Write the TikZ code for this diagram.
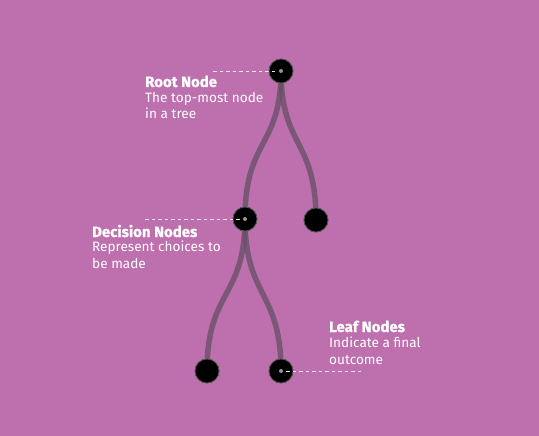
\documentclass[tikz,border=0pt]{standalone}
\usepackage{fontspec}
\setmainfont{Fira Sans}
\newfontfamily\headfont{Fira Sans}[BoldFeatures={FakeBold=0.8}]
\usetikzlibrary{calc}
\definecolor{bgpink}{RGB}{190,111,174}
\definecolor{branch}{RGB}{100,80,100}
\definecolor{dotgray}{RGB}{150,150,150}
\tikzset{
  treenode/.style={circle,fill=black,draw=black!65,line width=.7pt,
    minimum size=24pt,inner sep=0pt},
  branchline/.style={draw=branch,draw opacity=.75,line width=5.5pt},
  pointer/.style={draw=white!80!bgpink,line width=.8pt,
    dash pattern=on 3.5pt off 3pt},
  title/.style={anchor=base west,text=white,inner sep=0pt,
    font=\fontsize{15}{18}\selectfont\headfont\bfseries},
  caption/.style={anchor=base west,text=white,align=left,inner sep=0pt,
    font=\fontsize{13.6}{16.3}\selectfont}
}

\begin{document}
\begin{tikzpicture}[x=1pt,y=-1pt]
\fill[bgpink] (0,0) rectangle (539,436);
\useasboundingbox (0,0) rectangle (539,436);
% tree nodes
\node[treenode] (root) at (281,71) {};
\node[treenode] (dec) at (245,219) {};
\node[treenode] (rleaf) at (316,220) {};
\node[treenode] (leaf1) at (207,371) {};
\node[treenode] (leaf2) at (281,371) {};
% branches
\path[branchline] (root.center) .. controls (281,148) and (245,138) .. (dec.center);
\path[branchline] (root.center) .. controls (281,148) and (316,138) .. (rleaf.center);
\path[branchline] (dec.center) .. controls (245,298) and (207,290) .. (leaf1.center);
\path[branchline] (dec.center) .. controls (245,298) and (281,290) .. (leaf2.center);
% redraw nodes over branches
\foreach \n in {root,dec,rleaf,leaf1,leaf2}
  \node[treenode] at (\n) {};
\foreach \n in {root,dec,leaf2}
  \fill[dotgray] (\n) circle (2pt);
% pointers
\coordinate (rootend) at (213,71);
\coordinate (decend) at (145,219);
\coordinate (leafend) at (362,371);
\draw[pointer] (rootend) -- ($(root)+(-5,0)$);
\draw[pointer] (decend) -- ($(dec)+(-5,0)$);
\draw[pointer] ($(leaf2)+(5,0)$) -- (leafend);
% labels (captions anchored at their last baseline)
\node[title] (roott) at (145,87) {Root Node};
\node[caption] (rootd) at (145,119) {The top-most node\\in a tree};
\node[title] (dect) at (92,237) {Decision Nodes};
\node[caption] (decd) at (92,268) {Represent choices to\\be made};
\node[title] (leaft) at (329,332) {Leaf Nodes};
\node[caption] (leafd) at (329,364) {Indicate a final\\outcome};
\end{tikzpicture}
\end{document}
